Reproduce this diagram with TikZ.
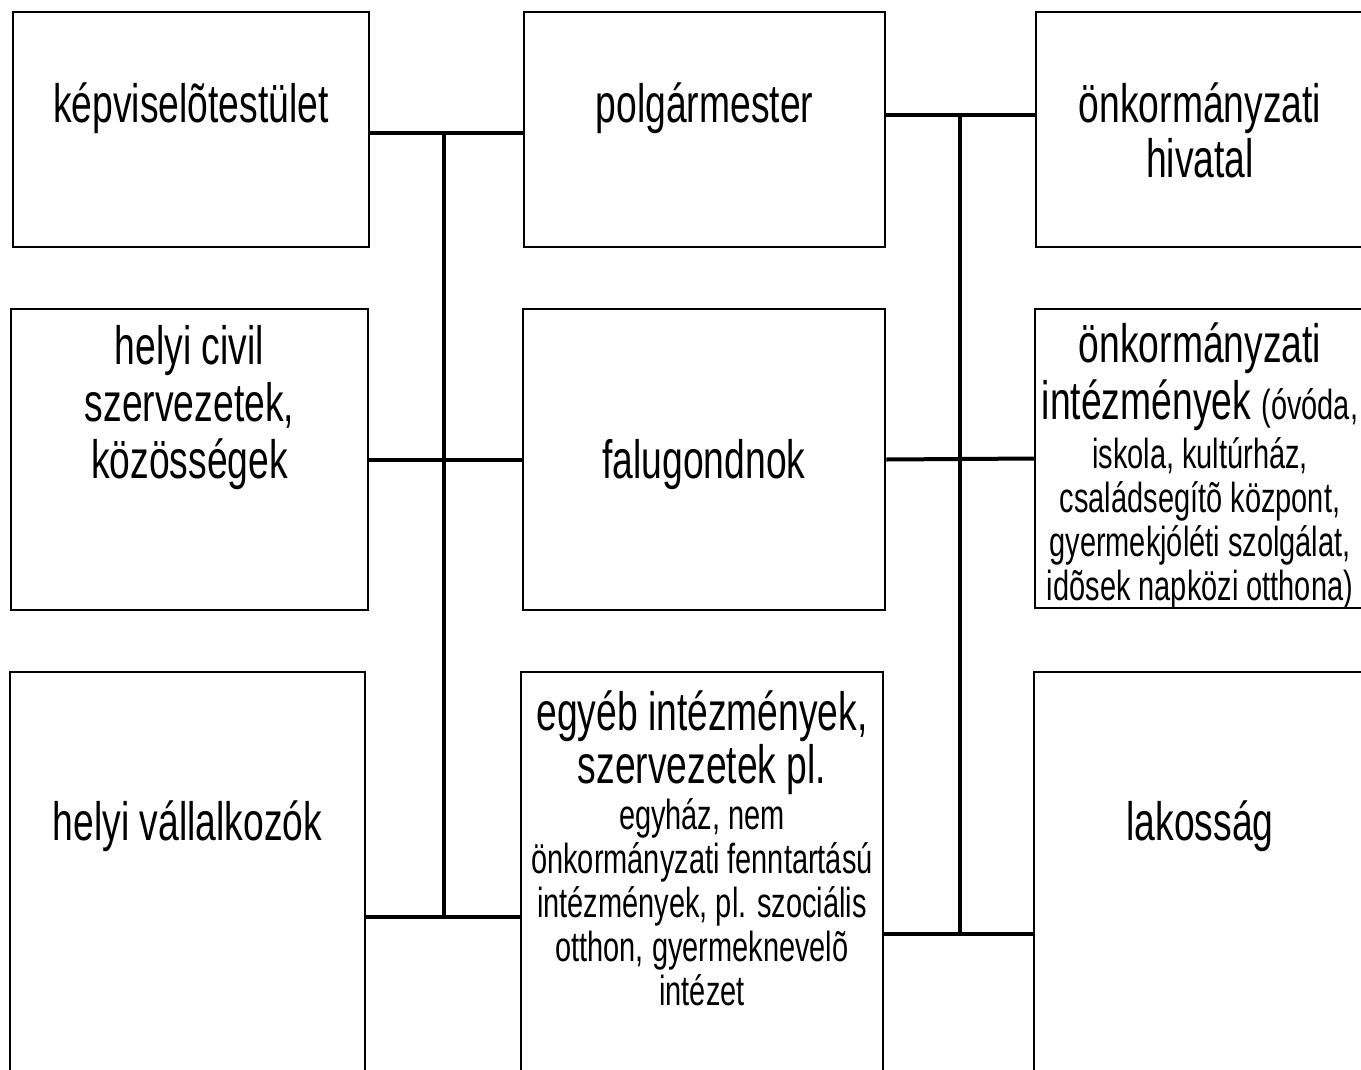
\documentclass[tikz,border=0pt]{standalone}
\usepackage{fontspec}
\newfontfamily\condfont[FakeStretch=0.69]{Liberation Sans}
\newcommand\bigtxt{\condfont\fontsize{54}{57}\selectfont}
\newcommand\smalltxt{\condfont\fontsize{42}{44}\selectfont}
\tikzset{
  box/.style={draw, line width=2.5pt, inner sep=0pt},
  conn/.style={line width=4pt},
  txt/.style={font=\bigtxt, align=center, inner sep=0pt}
}
\begin{document}
\begin{tikzpicture}[x=1pt, y=-1pt]
        \clip (0,0) rectangle (1361,1069);
        % boxes
        \node[box, minimum width=356pt, minimum height=235pt] (kt) at (191,129.5) {};
        \node[box, minimum width=357pt, minimum height=301pt] (civil) at (189.5,459.5) {};
        \node[box, minimum width=355pt, minimum height=403pt] (vall) at (187.5,873.5) {};
        \node[box, minimum width=361pt, minimum height=235pt] (polg) at (704.5,129.5) {};
        \node[box, minimum width=362pt, minimum height=301pt] (falu) at (704,459.5) {};
        \node[box, minimum width=362pt, minimum height=403pt] (egyeb) at (702,873.5) {};
        \node[box, minimum width=330pt, minimum height=235pt] (hiv) at (1201,129.5) {};
        \node[box, minimum width=331pt, minimum height=299pt] (intez) at (1200.5,458.5) {};
        \node[box, minimum width=332pt, minimum height=403pt] (lak) at (1200,873.5) {};
        % texts
        \node[txt, anchor=base] (kt-t) at (191,122) {képviselõtestület};
        \node[txt] (civil-t) at (189.5,408) {helyi civil\\ szervezetek,\\ közösségek};
        \node[txt, anchor=base] (vall-t) at (187.5,840) {helyi vállalkozók};
        \node[txt, anchor=base] (polg-t) at (704.5,122) {polgármester};
        \node[txt, anchor=base] (falu-t) at (704,478) {falugondnok};
        \node[txt] (egyeb-t) at (702,848) {egyéb intézmények,\\[-4pt] szervezetek pl.\\[-11pt]
          {\smalltxt egyház, nem}\\[-13pt] {\smalltxt önkormányzati fenntartású}\\[-13pt]
          {\smalltxt intézmények, pl. szociális}\\[-13pt] {\smalltxt otthon, gyermeknevelõ}\\[-13pt]
          {\smalltxt intézet}};
        \node[txt] (hiv-t) at (1200,130) {önkormányzati\\[-2pt] hivatal};
        \node[txt] (intez-t) at (1200,466) {önkormányzati\\ intézmények {\smalltxt (óvóda,}\\[-8pt]
          {\smalltxt iskola, kultúrház,}\\[-13pt] {\smalltxt családsegítõ központ,}\\[-13pt]
          {\smalltxt gyermekjóléti szolgálat,}\\[-13pt] {\smalltxt idõsek napközi otthona)}};
        \node[txt, anchor=base] (lak-t) at (1200,840) {lakosság};
        % connectors
        \coordinate (lt) at (444,133);
        \coordinate (lb) at (444,917);
        \coordinate (rt) at (960,115);
        \coordinate (rb) at (960,934);
        \draw[conn] (kt.east |- lt) -- (polg.west |- lt);
        \draw[conn] (civil.east) -- (falu.west);
        \draw[conn] (vall.east |- lb) -- (egyeb.west |- lb);
        \draw[conn] (lt) -- (lb);
        \draw[conn] (polg.east |- rt) -- (hiv.west |- rt);
        \draw[conn] (falu.east) -- (intez.west);
        \draw[conn] (egyeb.east |- rb) -- (lak.west |- rb);
        \draw[conn] (rt) -- (rb);
\end{tikzpicture}
\end{document}
